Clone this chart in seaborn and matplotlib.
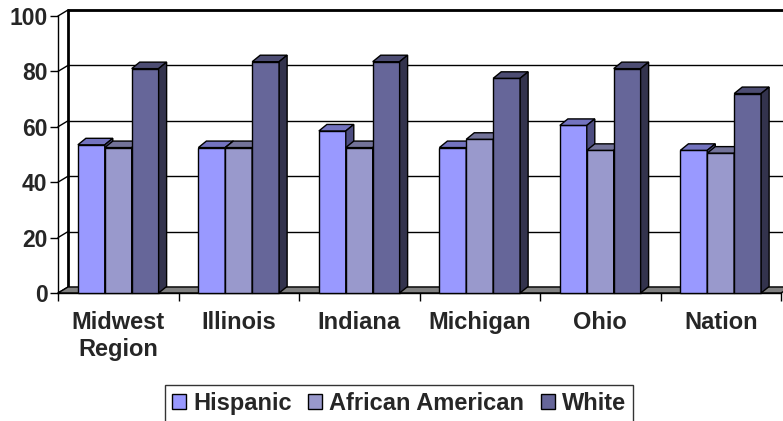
import numpy as np
import pandas as pd
import matplotlib
matplotlib.use("Agg")
import matplotlib.pyplot as plt
from matplotlib.patches import Polygon, Patch
import seaborn as sns

# ---- data ----
regions = ["Midwest\nRegion", "Illinois", "Indiana", "Michigan", "Ohio", "Nation"]
groups = ["Hispanic", "African American", "White"]
hispanic = [53.5, 52.5, 58.5, 52.5, 60.5, 51.5]
african_american = [52.5, 52.5, 52.5, 55.5, 51.5, 50.5]
white = [81, 83.5, 83.5, 77.5, 81, 72]
y_ticks = [0, 20, 40, 60, 80, 100]

colors = ["#9999FF", "#9999CC", "#666699"]

df = pd.DataFrame({
    "Region": regions * 3,
    "Group": [g for g in groups for _ in regions],
    "Value": hispanic + african_american + white,
})

sns.set_style("white")
plt.rcParams["font.family"] = ["Liberation Sans", "DejaVu Sans"]
plt.rcParams["font.weight"] = "bold"

W, H = 783, 421
fig = plt.figure(figsize=(W / 100, H / 100), dpi=100)
fig.patch.set_facecolor("white")
ax_l, ax_b, ax_w, ax_h = 58 / W, (H - 293) / H, 723 / W, 277 / H
ax = fig.add_axes([ax_l, ax_b, ax_w, ax_h])
ax.set_facecolor("none")

sns.barplot(data=df, x="Region", y="Value", hue="Group", hue_order=groups,
            palette=colors, saturation=1, width=0.67, edgecolor="black",
            linewidth=1.0, ax=ax, legend=False)

ax.set_xlim(-0.5, 5.5)
ax.set_ylim(0, 100)

# pixel -> data conversion
px_x = (ax_w * W) / 6.0
px_y = (ax_h * H) / 100.0
bdx, bdy = 8 / px_x, 6.5 / px_y    # bar depth
wdx, wdy = 10 / px_x, 6 / px_y     # wall depth

def shade(c, f):
    r, g, b = matplotlib.colors.to_rgb(c)
    return (r * f, g * f, b * f)

# back wall gridlines + left wall diagonals
for v in y_ticks:
    ax.plot([-0.5 + wdx, 6.0], [v + wdy, v + wdy], color="black", lw=1.0,
            zorder=0.5, clip_on=False)
    ax.plot([-0.5, -0.5 + wdx], [v, v + wdy], color="black", lw=1.0,
            zorder=0.5, clip_on=False)
# back wall left edge and top
ax.plot([-0.5 + wdx, -0.5 + wdx], [wdy, 100 + wdy], color="black", lw=2,
        zorder=0.6, clip_on=False)
ax.plot([-0.5 + wdx, 6.0], [100 + wdy, 100 + wdy], color="black", lw=2,
        zorder=0.6, clip_on=False)

# floor
floor = Polygon([(-0.5, 0), (5.5, 0), (5.5 + wdx, wdy), (-0.5 + wdx, wdy)],
                closed=True, facecolor="#808080", edgecolor="black", lw=1,
                zorder=1.5, clip_on=False)
ax.add_patch(floor)

# 3D bar faces
bars = []
for cont, col in zip(ax.containers, colors):
    for p in cont.patches:
        bars.append((p, col))
bars.sort(key=lambda t: t[0].get_x())
for i, (p, col) in enumerate(bars):
    z = 3 + i * 0.01
    p.set_zorder(z)
    p.set_clip_on(False)
    x0, w, h = p.get_x(), p.get_width(), p.get_height()
    top = Polygon([(x0, h), (x0 + w, h), (x0 + w + bdx, h + bdy), (x0 + bdx, h + bdy)],
                  closed=True, facecolor=shade(col, 0.75), edgecolor="black",
                  lw=1.0, zorder=z + 0.001, clip_on=False)
    side = Polygon([(x0 + w, 0), (x0 + w + bdx, bdy), (x0 + w + bdx, h + bdy), (x0 + w, h)],
                   closed=True, facecolor=shade(col, 0.5), edgecolor="black",
                   lw=1.0, zorder=z + 0.001, clip_on=False)
    ax.add_patch(top)
    ax.add_patch(side)

# spines
for s in ["top", "right"]:
    ax.spines[s].set_visible(False)
for s in ["left", "bottom"]:
    ax.spines[s].set_color("black")
    ax.spines[s].set_linewidth(1)
    ax.spines[s].set_zorder(2)

ax.set_yticks(y_ticks)
ax.set_yticklabels([str(v) for v in y_ticks], fontsize=16.5, fontweight="bold")
ax.tick_params(axis="y", length=6, width=1, direction="out", pad=1.5, color="black", left=True)

ax.set_xticks(range(len(regions)))
ax.set_xticklabels(regions, fontsize=17, fontweight="bold", linespacing=1.2)
ax.set_xticks(np.arange(-0.5, 6.0, 1.0), minor=True)
ax.tick_params(axis="x", which="major", length=0, pad=13)
ax.tick_params(axis="x", which="minor", length=6, width=1, direction="out",
               color="black", bottom=True)
ax.set_xlabel("")
ax.set_ylabel("")
ax.grid(False)

handles = [Patch(facecolor=c, edgecolor="black", lw=1) for c in colors]
leg = fig.legend(handles, groups, loc="upper center",
                 bbox_to_anchor=(399 / W, 1 - 385 / H), ncol=3, frameon=True,
                 fancybox=False, edgecolor="black",
                 prop={"size": 17, "weight": "bold"},
                 handlelength=0.6, handleheight=0.6, handletextpad=0.3,
                 columnspacing=0.7, borderpad=0.3, borderaxespad=0)
leg.get_frame().set_linewidth(1)

fig.savefig("out.png", dpi=100, facecolor="white")
